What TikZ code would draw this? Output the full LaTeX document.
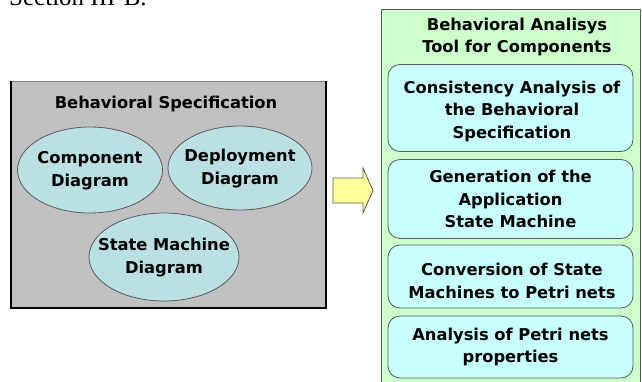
\documentclass[tikz,border=0pt]{standalone}
\usepackage{fontspec}
\setmainfont{DejaVu Sans}
\newfontfamily\bodyserif{Liberation Serif}
\usetikzlibrary{shapes.geometric}
\definecolor{specgray}{HTML}{C0C0C0}
\definecolor{ellblue}{HTML}{BBE0E3}
\definecolor{toolgreen}{HTML}{CCFFCC}
\definecolor{stepcyan}{HTML}{C8FFFF}
\definecolor{arrowyellow}{HTML}{FFFF99}
\definecolor{edgegray}{HTML}{5A5A5A}
% two centred lines that do not widen the surrounding shape
\newcommand\ctrlines[2]{\makebox[0pt]{\begin{tabular}{@{}c@{}}#1\\#2\end{tabular}}}
\tikzset{
  x=1pt, y=-1pt,
  txt/.style={font=\bfseries\fontsize{16.3}{22.5}\selectfont, align=center, inner sep=0pt},
  diag/.style={ellipse, draw=edgegray, line width=0.8pt, fill=ellblue, inner sep=0pt,
    font=\bfseries\fontsize{16.3}{23}\selectfont},
  stepbox/.style={draw=edgegray, line width=0.8pt, fill=stepcyan, rounded corners=12pt,
    minimum width=245pt, inner sep=0pt, txt},
}
\begin{document}
\begin{tikzpicture}
\useasboundingbox (0,0) rectangle (642,381);
\begin{scope}
\clip (0,0) rectangle (642,381);
% running text above the figure
\node[anchor=base west, inner sep=0pt, font=\bodyserif\fontsize{25}{30}\selectfont] (sec) at (9,5) {Section III-B.};

% left panel: the behavioral specification
\fill[specgray] (11,81) rectangle (326,308);
\draw[gray, line width=1pt] (11,81) -- (326,81);
\draw[black, line width=1.5pt] (11,81) -- (11,308) -- (326,308) -- (326,81);
\node[txt] (spec) at (166,104) {Behavioral Specification};
\node[diag, minimum width=145pt, minimum height=86pt] (comp) at (90,170) {\ctrlines{Component}{Diagram}};
\node[diag, minimum width=144pt, minimum height=84pt] (depl) at (240,168) {\ctrlines{Deployment}{Diagram}};
\node[diag, minimum width=150pt, minimum height=88pt] (sm) at (164,257) {\ctrlines{State Machine}{Diagram}};

% block arrow between the two panels
\draw[edgegray, line width=0.8pt, fill=arrowyellow]
  (333,178) -- (363,178) -- (363,168) -- (373,190.5) -- (363,213) -- (363,203) -- (333,203) -- cycle;

% right panel: the analysis tool
\fill[toolgreen] (381,9) rectangle (640,390);
\draw[edgegray, line width=1pt] (381,390) -- (381,9) -- (640,9) -- (640,390);
\node[txt] (tool) at (517,37) {Behavioral Analisys\\Tool for Components};
\node[stepbox, minimum height=87pt] (s1) at (510.5,108) {};
\node[txt] (s1t) at (512,111) {Consistency Analysis of\\the Behavioral\\Specification};
\node[stepbox, minimum height=79pt] (s2) at (510.5,199) {Generation of the\\Application\\State Machine};
\node[stepbox, minimum height=63pt] (s3) at (510.5,276.5) {};
\node[txt] (s3t) at (512,281) {Conversion of State\\Machines to Petri nets};
\node[stepbox, minimum height=62pt] (s4) at (510.5,347) {Analysis of Petri nets\\properties};
\end{scope}
\end{tikzpicture}
\end{document}
